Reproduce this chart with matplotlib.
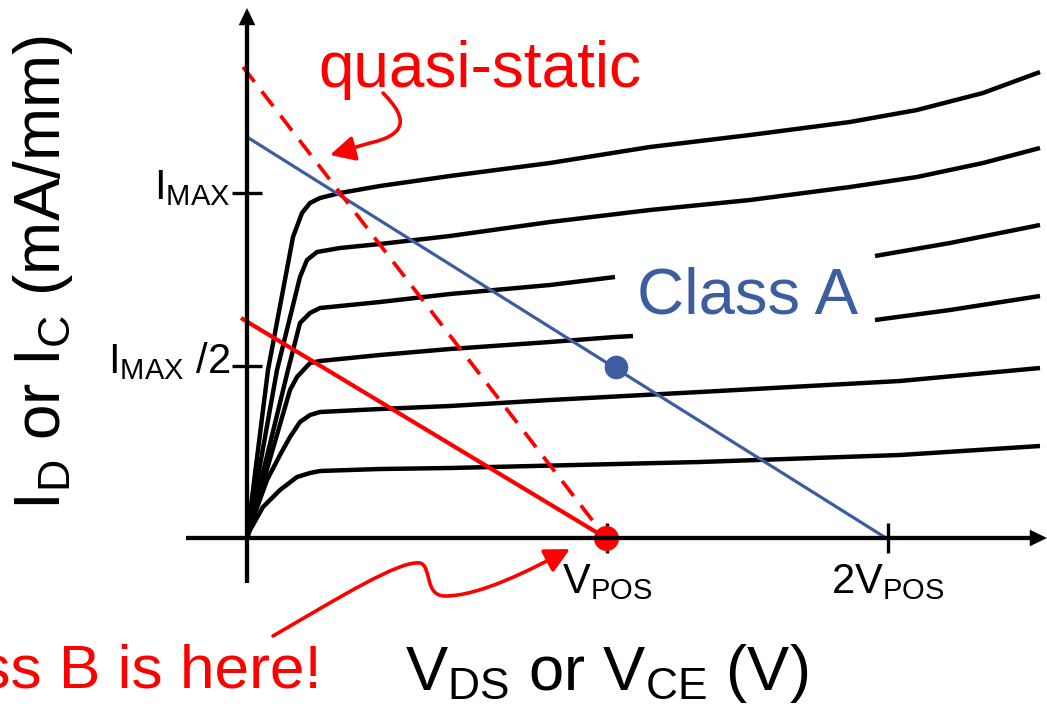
import matplotlib
matplotlib.use("Agg")
import matplotlib.pyplot as plt
import matplotlib.transforms as mtransforms
from matplotlib.path import Path
from matplotlib.patches import FancyArrowPatch

plt.rcParams['font.family'] = ['Liberation Sans', 'DejaVu Sans']
plt.rcParams['mathtext.fontset'] = 'custom'
plt.rcParams['mathtext.rm'] = 'Liberation Sans'
plt.rcParams['mathtext.it'] = 'Liberation Sans:italic'
plt.rcParams['mathtext.bf'] = 'Liberation Sans:bold'

# ---- data (diagram units: origin at the axes crossing) ----
curve1_x = [0, 21, 46, 55, 63, 73, 93, 133, 203, 303, 403, 503, 603, 670, 736, 793]
curve1_y = [0, 168, 301, 325, 335, 340, 345, 352, 362, 375, 391, 403, 416, 428, 445, 466]

curve2_x = [0, 30, 53, 60, 70, 93, 133, 203, 303, 403, 503, 603, 670, 736, 793]
curve2_y = [0, 168, 261, 278, 286, 290, 294, 302, 316, 328, 338, 351, 361, 375, 390]

curve3a_x = [0, 41, 53, 63, 73, 133, 203, 303, 368]
curve3a_y = [0, 168, 215, 225, 230, 236, 244, 253, 261]
curve3b_x = [628, 703, 793]
curve3b_y = [282, 295, 313]

curve4a_x = [0, 43, 50, 63, 73, 133, 203, 303, 368, 386]
curve4a_y = [0, 148, 161, 175, 177, 183, 189, 196, 201, 202]
curve4b_x = [628, 703, 793]
curve4b_y = [218, 228, 242]

curve5_x = [0, 3, 20, 33, 43, 53, 63, 73, 133, 203, 303, 453, 653, 793]
curve5_y = [0, 11, 58, 83, 101, 116, 123, 126, 129, 132, 138, 146, 157, 170]

curve6_x = [0, 3, 16, 33, 50, 63, 73, 133, 203, 453, 653, 793]
curve6_y = [0, 8, 31, 48, 61, 65, 67, 69, 70, 76, 83, 92]

classA_x = [0, 639]
classA_y = [401, 0]
classA_q = (369, 171)

classB_x = [-6, 359]
classB_y = [220, 0]
quasi_x = [-4, 359]
quasi_y = [471, 0]
classB_q = (359, 0)

ytick_vals = [172.5, 345]
ytick_labels = [r'$\mathregular{I_{MAX}}$ /2', r'$\mathregular{I_{MAX}}$']
xtick_vals = [360, 641]
xtick_labels = [r'$\mathregular{V_{POS}}$', r'$\mathregular{2V_{POS}}$']

BLUE = '#3C5DA0'
RED = '#FF0000'

fig = plt.figure(figsize=(10.47, 7.07), dpi=100)
ax = fig.add_axes([0, 0, 1, 1])
ax.set_xlim(-247, 800)
ax.set_ylim(-169, 538)

# axes as spines through origin
for s in ['top', 'right']:
    ax.spines[s].set_visible(False)
ax.spines['left'].set_position(('data', 0))
ax.spines['bottom'].set_position(('data', 0))
ax.spines['left'].set_bounds(-45, 515)
ax.spines['bottom'].set_bounds(-61, 785)
for s in ['left', 'bottom']:
    ax.spines[s].set_linewidth(3.1)
    ax.spines[s].set_capstyle('butt')

ax.set_yticks(ytick_vals)
ax.set_yticklabels(ytick_labels)
ax.set_xticks(xtick_vals)
ax.set_xticklabels(xtick_labels)
ax.tick_params(axis='y', direction='inout', length=22, width=2.4, pad=1, labelsize=30)
ax.tick_params(axis='x', direction='inout', length=22, width=2.4, pad=6, labelsize=30)
shift = mtransforms.ScaledTranslation(0, 0.09, fig.dpi_scale_trans)
for lab in ax.get_yticklabels():
    lab.set_transform(lab.get_transform() + shift)

# arrow heads
ax.annotate('', xy=(0, 530), xytext=(0, 505),
            arrowprops=dict(arrowstyle='-|>,head_length=0.62,head_width=0.3',
                            mutation_scale=20, lw=0, fc='k', ec='k',
                            shrinkA=0, shrinkB=0), annotation_clip=False)
ax.annotate('', xy=(800, 0), xytext=(775, 0),
            arrowprops=dict(arrowstyle='-|>,head_length=0.62,head_width=0.3',
                            mutation_scale=20, lw=0, fc='k', ec='k',
                            shrinkA=0, shrinkB=0), annotation_clip=False)

# output characteristics
kw = dict(color='black', lw=3.2, solid_capstyle='butt', solid_joinstyle='round')
for xs, ys in [(curve1_x, curve1_y), (curve2_x, curve2_y), (curve3a_x, curve3a_y),
               (curve3b_x, curve3b_y), (curve4a_x, curve4a_y), (curve4b_x, curve4b_y),
               (curve5_x, curve5_y), (curve6_x, curve6_y)]:
    ax.plot(xs, ys, **kw)

# load lines
ax.plot(classA_x, classA_y, color=BLUE, lw=2.3, solid_capstyle='butt')
ax.plot(classB_x, classB_y, color=RED, lw=3.0, solid_capstyle='butt')
ax.plot(quasi_x, quasi_y, color=RED, lw=2.7, dashes=(5.0, 3.2))
ax.plot(*classA_q, 'o', color=BLUE, ms=16, mec=BLUE)
ax.plot(*classB_q, 'o', color=RED, ms=17, mec=RED)

# texts
ax.text(71, 451, 'quasi-static', color=RED, fontsize=46, va='baseline', ha='left')
ax.text(390, 225, 'Class A', color=BLUE, fontsize=47, va='baseline', ha='left')
ax.text(75, -150, 'Class B is here!', color=RED, fontsize=44.8, va='baseline', ha='right')
ax.text(158, -152, r'$\mathregular{V_{DS}}$ or $\mathregular{V_{CE}}$ (V)', color='black',
        fontsize=45.5, va='baseline', ha='left')
ax.text(-204, 266, r'$\mathregular{I_{D}}$ or $\mathregular{I_{C}}$ (mA/mm)', color='black',
        fontsize=46, rotation=90, va='center', ha='center')

# curved annotation arrows
M, C = Path.MOVETO, Path.CURVE4
qpath = Path([(136, 445), (163, 418), (158, 403), (123, 395),
              (108, 391), (98, 387), (83, 383)],
             [M, C, C, C, C, C, C])
ax.add_patch(FancyArrowPatch(path=qpath, arrowstyle='-|>,head_length=0.75,head_width=0.38',
                             mutation_scale=20, color=RED, lw=2.6))
bpath = Path([(26, -98), (93, -59), (153, -22), (173, -25),
              (185, -28), (177, -58), (198, -58),
              (233, -58), (283, -32), (323, -11)],
             [M, C, C, C, C, C, C, C, C, C])
ax.add_patch(FancyArrowPatch(path=bpath, arrowstyle='-|>,head_length=0.75,head_width=0.38',
                             mutation_scale=20, color=RED, lw=2.6))

fig.savefig('out.png', dpi=100)
